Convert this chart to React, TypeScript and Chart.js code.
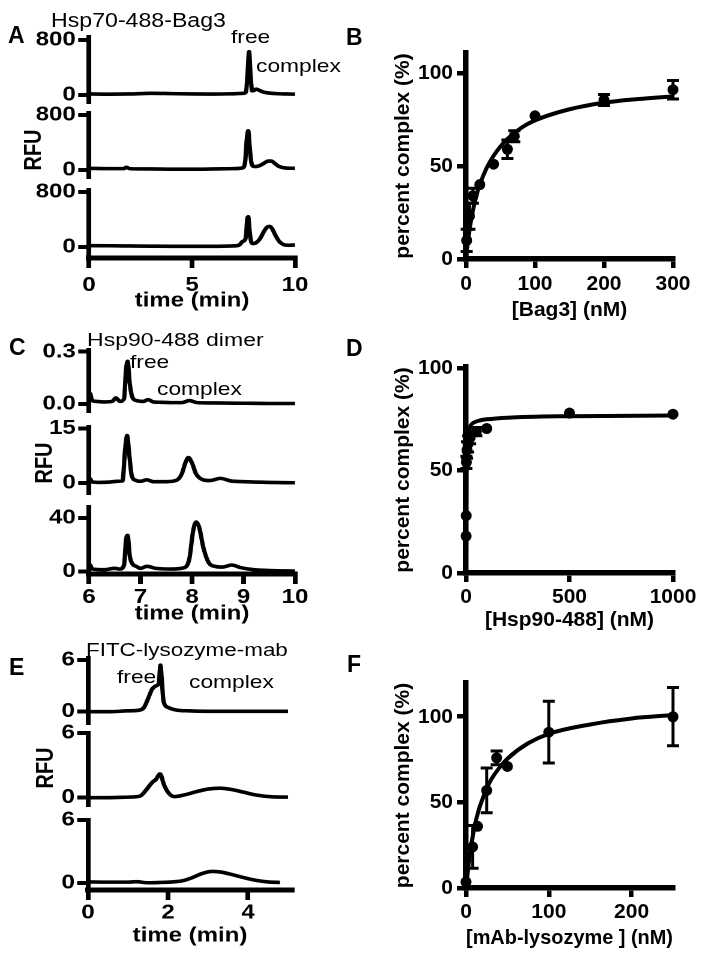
import React, { useEffect, useRef } from 'react';
import { Chart, registerables } from 'chart.js';

Chart.register(...registerables);

const FONT = '"Liberation Sans", Arial, Helvetica, sans-serif';
const STRETCH = 1.2;

// ---------- Panel A: Hsp70-488-Bag3 traces
const aTime1 = [0, 1, 2, 3, 4, 5, 6, 7, 7.5, 7.62, 7.7, 7.77, 7.84, 7.92, 8.0, 8.12, 8.25, 8.45, 8.7, 9.1, 9.6, 10];
const aRfu1 = [15, 12, 15, 25, 20, 15, 14, 18, 25, 45, 330, 630, 300, 60, 65, 85, 70, 45, 30, 20, 15, 12];
const aTime2 = [0, 1, 1.7, 1.8, 2, 3, 4, 5, 6, 7, 7.45, 7.58, 7.66, 7.73, 7.8, 7.88, 7.97, 8.1, 8.3, 8.5, 8.7, 8.85, 9.0, 9.2, 9.5, 10];
const aRfu2 = [25, 20, 20, 40, 18, 15, 12, 12, 15, 20, 30, 120, 450, 570, 330, 110, 55, 50, 65, 100, 130, 130, 100, 55, 30, 25];
const aTime3 = [0, 1, 2, 3, 4, 5, 6, 7, 7.3, 7.45, 7.55, 7.62, 7.68, 7.73, 7.79, 7.86, 7.95, 8.1, 8.3, 8.5, 8.65, 8.78, 8.9, 9.05, 9.25, 9.45, 9.7, 10];
const aRfu3 = [20, 18, 15, 12, 10, 10, 10, 15, 30, 80, 95, 160, 400, 440, 250, 90, 50, 60, 120, 230, 290, 300, 260, 170, 75, 35, 25, 30];
const aTimeTicks = [0, 5, 10];
const aTimeLabels = ['0', '5', '10'];
const aRfuTicks = [0, 800];
const aRfuLabels = ['0', '800'];

// ---------- Panel C: Hsp90-488 dimer traces
const cTime1 = [6.0, 6.02, 6.06, 6.15, 6.3, 6.45, 6.52, 6.6, 6.68, 6.72, 6.75, 6.79, 6.84, 6.92, 7.05, 7.15, 7.25, 7.4, 7.6, 7.8, 7.95, 8.1, 8.4, 8.8, 9.2, 9.6, 10];
const cRfu1 = [0.01, 0.06, 0.02, 0.015, 0.012, 0.015, 0.035, 0.015, 0.03, 0.2, 0.245, 0.12, 0.04, 0.02, 0.015, 0.025, 0.012, 0.01, 0.008, 0.008, 0.02, 0.008, 0.006, 0.005, 0.004, 0.003, 0.003];
const cTime2 = [6.0, 6.02, 6.06, 6.2, 6.4, 6.55, 6.65, 6.7, 6.74, 6.78, 6.83, 6.9, 7.0, 7.12, 7.25, 7.5, 7.7, 7.8, 7.87, 7.93, 8.0, 8.08, 8.2, 8.35, 8.55, 8.75, 9.0, 9.5, 10];
const cRfu2 = [0.3, 1.2, 0.3, 0.2, 0.3, 0.5, 0.6, 9, 13, 8, 2, 0.8, 0.5, 0.9, 0.4, 0.4, 0.8, 2.5, 5.5, 7, 5.5, 2.5, 1, 0.7, 1.3, 0.6, 0.4, 0.2, 0.1];
const cTime3 = [6.0, 6.02, 6.06, 6.3, 6.5, 6.6, 6.68, 6.72, 6.75, 6.79, 6.84, 6.92, 7.0, 7.12, 7.3, 7.6, 7.85, 7.95, 8.02, 8.08, 8.14, 8.22, 8.32, 8.45, 8.6, 8.77, 8.95, 9.2, 9.6, 10];
const cRfu3 = [1, 5, 2, 1.5, 2.5, 2, 5, 24, 27, 12, 6, 4, 2.5, 4, 2.5, 2, 3, 10, 30, 37, 33, 18, 7, 4, 3.5, 5, 3, 1.5, 0.8, 0.5];
const cTimeTicks = [6, 7, 8, 9, 10];
const cTimeLabels = ['6', '7', '8', '9', '10'];
const cRfuTicks1 = [0, 0.3];
const cRfuLabels1 = ['0.0', '0.3'];
const cRfuTicks2 = [0, 15];
const cRfuLabels2 = ['0', '15'];
const cRfuTicks3 = [0, 40];
const cRfuLabels3 = ['0', '40'];

// ---------- Panel E: FITC-lysozyme-mab traces
const eTime1 = [0, 0.5, 1.0, 1.3, 1.4, 1.5, 1.6, 1.7, 1.77, 1.81, 1.84, 1.88, 1.92, 2.0, 2.2, 2.5, 3, 3.5, 4, 4.5, 5];
const eRfu1 = [0, 0, 0.1, 0.2, 0.5, 1.5, 2.6, 3.0, 3.3, 5.4, 4.0, 1.5, 0.8, 0.5, 0.2, 0.1, 0.05, 0.05, 0.05, 0.05, 0.05];
const eTime2 = [0, 0.5, 1.0, 1.3, 1.45, 1.6, 1.7, 1.8, 1.9, 2.0, 2.15, 2.4, 2.7, 3.0, 3.3, 3.6, 3.9, 4.2, 4.6, 5.0];
const eRfu2 = [0, 0, 0.05, 0.15, 0.7, 1.4, 1.7, 2.2, 1.2, 0.5, 0.1, 0.25, 0.55, 0.8, 0.88, 0.75, 0.5, 0.25, 0.08, 0.05];
const eTime3 = [0, 0.5, 1.0, 1.2, 1.5, 1.8, 2.1, 2.35, 2.6, 2.85, 3.1, 3.3, 3.55, 3.85, 4.2, 4.5, 4.8];
const eRfu3 = [0.1, 0.08, 0.08, 0.12, 0.02, 0.05, 0.1, 0.2, 0.5, 0.9, 1.1, 1.05, 0.85, 0.55, 0.25, 0.1, 0.05];
const eTimeTicks = [0, 2, 4];
const eTimeLabels = ['0', '2', '4'];
const eRfuTicks = [0, 6];
const eRfuLabels = ['0', '6'];

// ---------- Panel B: Bag3 binding
const bagConc = [1, 5, 10, 20, 40, 60, 70, 100, 200, 300];
const bagPct = [10, 23, 34, 40, 51, 59, 66, 77, 85.5, 91];
const bagErr = [6, 7, 4, 0, 0, 5, 3, 0, 3, 5];
const bagFitConc = [0, 2, 5, 10, 15, 20, 30, 40, 50, 60, 80, 100, 150, 200, 250, 300];
const bagFitPct = [0, 7, 15.5, 26, 34, 40, 49, 55.5, 60.5, 64.5, 70.5, 74.5, 80.5, 84, 86, 87.5];
const bTicksX = [0, 100, 200, 300];
const bTicksY = [0, 50, 100];

// ---------- Panel D: Hsp90-488 binding
const hspConc = [0.5, 1, 2, 5, 10, 20, 50, 100, 500, 1000];
const hspPct = [18, 28, 54, 60, 63, 66, 69, 70.5, 78, 77.5];
const hspErr = [0, 0, 3, 4, 4, 3, 2, 0, 0, 0];
const hspFitConc = [0, 0.5, 1, 2, 3, 5, 10, 20, 40, 70, 100, 200, 500, 1000];
const hspFitPct = [0, 20, 33, 48, 55, 62, 68, 71.5, 73.5, 74.5, 75, 75.8, 76.5, 76.8];
const dTicksX = [0, 500, 1000];
const dTicksY = [0, 50, 100];

// ---------- Panel F: mAb-lysozyme binding
const mabConc = [0, 8, 14, 25, 37, 50, 100, 250];
const mabPct = [3.5, 24, 36, 57, 76, 71, 91, 100];
const mabErr = [0, 12.5, 0, 13, 4, 0, 18, 17];
const mabFitConc = [0, 5, 10, 15, 20, 25, 30, 40, 50, 75, 100, 150, 200, 250];
const mabFitPct = [0, 21, 35, 45, 52, 58, 63, 70, 75.5, 84.5, 90, 95.5, 99, 101];
const fTicksX = [0, 100, 200];
const fTicksY = [0, 50, 100];

const pts = (xs: number[], ys: number[]) => xs.map((x, i) => ({ x, y: ys[i] }));
const str = (a: number[]) => a.map((v) => String(v));

type Area = { left: number; right: number; top: number; bottom: number };
type Box = { x: number; y: number; w: number; h: number };
type AxisSpec = {
  min: number; max: number; ticks: number[]; labels: string[]; pad: number; tickLen: number;
  border: number; title?: string; titleMid?: number; show?: boolean;
};
type Spec = {
  box: Box; area: Area; dpr: number; fontSize: number; tickWidth: number;
  x: AxisSpec; y: AxisSpec; datasets: any[];
  errors?: { xs: number[]; ys: number[]; es: number[]; cap: number; width: number };
};

function errorPlugin(err?: Spec['errors']) {
  return {
    id: 'errorBars',
    afterDatasetsDraw(chart: any) {
      if (!err) return;
      const { ctx } = chart;
      const xs = chart.scales.x;
      const ys = chart.scales.y;
      ctx.save();
      ctx.strokeStyle = '#000';
      ctx.lineWidth = err.width;
      err.xs.forEach((xv, i) => {
        const e = err.es[i];
        if (!e) return;
        const px = xs.getPixelForValue(xv);
        const t = ys.getPixelForValue(err.ys[i] + e);
        const b = ys.getPixelForValue(err.ys[i] - e);
        ctx.beginPath();
        ctx.moveTo(px, t); ctx.lineTo(px, b);
        ctx.moveTo(px - err.cap, t); ctx.lineTo(px + err.cap, t);
        ctx.moveTo(px - err.cap, b); ctx.lineTo(px + err.cap, b);
        ctx.stroke();
      });
      ctx.restore();
    },
  };
}

function buildConfig(s: Spec): any {
  const lh = s.fontSize * 1.2;
  const font = { family: FONT, size: s.fontSize, weight: 'bold' as const };
  const { box, area } = s;
  const padLeft = s.y.title ? (s.y.titleMid as number) - box.x - lh / 2 : 0;
  const yWidth = area.left - box.x - padLeft;
  const showX = !!s.x.show;
  const xHeight = showX ? (s.x.titleMid as number) + lh / 2 - area.bottom : 0;
  const padTop = area.top - box.y;
  const padRight = box.x + box.w - area.right;
  const padBottom = box.y + box.h - area.bottom - xHeight;
  const axis = (a: AxisSpec, isX: boolean) => ({
    type: 'linear',
    position: isX ? 'bottom' : 'left',
    display: isX ? showX : true,
    min: a.min,
    max: a.max,
    afterBuildTicks: (sc: any) => {
      sc.ticks = a.ticks.map((v) => ({ value: v }));
    },
    afterFit: (sc: any) => {
      if (isX) sc.height = xHeight;
      else sc.width = yWidth;
    },
    ticks: {
      autoSkip: false,
      maxRotation: 0,
      minRotation: 0,
      padding: a.pad,
      color: '#000',
      font,
      callback: (_v: any, i: number) => a.labels[i],
    },
    grid: {
      drawOnChartArea: false,
      drawTicks: true,
      tickLength: a.tickLen,
      tickWidth: s.tickWidth,
      tickColor: '#000',
      color: '#000',
      lineWidth: s.tickWidth,
    },
    border: { display: true, width: a.border, color: '#000' },
    title: {
      display: !!a.title,
      text: a.title || '',
      color: '#000',
      font,
      padding: 0,
    },
  });
  return {
    type: 'scatter',
    data: { datasets: s.datasets },
    options: {
      animation: false,
      responsive: false,
      devicePixelRatio: s.dpr,
      events: [],
      layout: { padding: { left: padLeft, top: padTop, right: padRight, bottom: padBottom } },
      plugins: { legend: { display: false }, tooltip: { enabled: false } },
      scales: { x: axis(s.x, true), y: axis(s.y, false) },
    },
    plugins: [errorPlugin(s.errors)],
  };
}

function ChartCanvas({ spec }: { spec: Spec }) {
  const ref = useRef<HTMLCanvasElement>(null);
  useEffect(() => {
    const chart = new Chart(ref.current as HTMLCanvasElement, buildConfig(spec));
    return () => chart.destroy();
  }, []);
  const b = spec.box;
  return (
    <canvas
      ref={ref}
      width={b.w}
      height={b.h}
      style={{ position: 'absolute', left: b.x, top: b.y, width: b.w, height: b.h }}
    />
  );
}

const traceSet = (xs: number[], ys: number[]) => [
  {
    data: pts(xs, ys),
    showLine: true,
    borderColor: '#000',
    borderWidth: 3.6,
    pointRadius: 0,
    cubicInterpolationMode: 'monotone',
    clip: false,
  },
];

function leftSpec(
  area: Area,
  yMin: number, yMax: number, yTicks: number[], yLabels: string[],
  xs: number[], ys: number[],
  xMin: number, xMax: number,
  xAxis?: { ticks: number[]; labels: string[]; pad: number; titleMid: number }
): Spec {
  const la: Area = { left: area.left / STRETCH, right: area.right / STRETCH, top: area.top, bottom: area.bottom };
  const by = area.top - 18;
  const bh = xAxis ? Math.ceil(xAxis.titleMid + 18 - by) : area.bottom + 18 - by;
  return {
    box: { x: 0, y: by, w: 265, h: bh },
    area: la,
    dpr: 2,
    fontSize: 20,
    tickWidth: 4,
    x: {
      min: xMin, max: xMax,
      ticks: xAxis ? xAxis.ticks : [], labels: xAxis ? xAxis.labels : [],
      pad: xAxis ? xAxis.pad : 0, tickLen: 10, border: 5,
      title: xAxis ? 'time (min)' : undefined, titleMid: xAxis ? xAxis.titleMid : 0, show: !!xAxis,
    },
    y: { min: yMin, max: yMax, ticks: yTicks, labels: yLabels, pad: 2, tickLen: 9, border: 4 },
    datasets: traceSet(xs, ys),
  };
}

const leftSpecs: Spec[] = [
  leftSpec({ left: 89, right: 295, top: 37, bottom: 102 }, -101.8, 843.6, aRfuTicks, aRfuLabels, aTime1, aRfu1, 0, 10),
  leftSpec({ left: 89, right: 295, top: 113, bottom: 177 }, -101.8, 829, aRfuTicks, aRfuLabels, aTime2, aRfu2, 0, 10),
  leftSpec({ left: 89, right: 295, top: 190, bottom: 258 }, -160, 829, aRfuTicks, aRfuLabels, aTime3, aRfu3, 0, 10,
    { ticks: aTimeTicks, labels: aTimeLabels, pad: 5.6, titleMid: 301 }),
  leftSpec({ left: 89, right: 295, top: 350, bottom: 411 }, -0.04, 0.31, cRfuTicks1, cRfuLabels1, cTime1, cRfu1, 6, 10),
  leftSpec({ left: 89, right: 295, top: 427, bottom: 493 }, -2.7, 15.35, cRfuTicks2, cRfuLabels2, cTime2, cRfu2, 6, 10),
  leftSpec({ left: 89, right: 295, top: 507, bottom: 574 }, -1.7, 48.2, cRfuTicks3, cRfuLabels3, cTime3, cRfu3, 6, 10,
    { ticks: cTimeTicks, labels: cTimeLabels, pad: 1.4, titleMid: 614 }),
  leftSpec({ left: 88, right: 292, top: 658, bottom: 723 }, -1.31, 6.23, eRfuTicks, eRfuLabels, eTime1, eRfu1, 0, 5.1),
  leftSpec({ left: 88, right: 292, top: 733, bottom: 805 }, -0.68, 6, eRfuTicks, eRfuLabels, eTime2, eRfu2, 0, 5.1),
  leftSpec({ left: 88, right: 292, top: 820, bottom: 890 }, -0.67, 6, eRfuTicks, eRfuLabels, eTime3, eRfu3, 0, 5.1,
    { ticks: eTimeTicks, labels: eTimeLabels, pad: 1, titleMid: 936 }),
];

function rightSpec(
  box: Box, area: Area,
  x: { max: number; ticks: number[]; title: string; titleMid: number; pad: number },
  yMax: number, yTicks: number[],
  conc: number[], pct: number[], err: number[], fitX: number[], fitY: number[]
): Spec {
  return {
    box, area, dpr: 1, fontSize: 21, tickWidth: 4.5,
    x: { min: 0, max: x.max, ticks: x.ticks, labels: str(x.ticks), pad: x.pad, tickLen: 9, border: 5.5, title: x.title, titleMid: x.titleMid, show: true },
    y: { min: 0, max: yMax, ticks: yTicks, labels: str(yTicks), pad: 4, tickLen: 9, border: 5.5, title: 'percent complex (%)', titleMid: 403.3 },
    datasets: [
      { data: pts(fitX, fitY), showLine: true, borderColor: '#000', borderWidth: 4, pointRadius: 0, cubicInterpolationMode: 'monotone', clip: false },
      { data: pts(conc, pct), showLine: false, pointRadius: 5.5, pointBackgroundColor: '#000', pointBorderColor: '#000', pointBorderWidth: 0, clip: false },
    ],
    errors: { xs: conc, ys: pct, es: err, cap: 6, width: 3 },
  };
}

const rightSpecs: Spec[] = [
  rightSpec({ x: 340, y: 30, w: 364, h: 320 }, { left: 466, right: 673, top: 53, bottom: 259 },
    { max: 300, ticks: bTicksX, title: '[Bag3] (nM)', titleMid: 310.3, pad: 3.8 }, 110.75, bTicksY,
    bagConc, bagPct, bagErr, bagFitConc, bagFitPct),
  rightSpec({ x: 340, y: 340, w: 364, h: 300 }, { left: 466, right: 673, top: 367, bottom: 573 },
    { max: 1000, ticks: dTicksX, title: '[Hsp90-488] (nM)', titleMid: 620, pad: 3.1 }, 100.5, dTicksY,
    hspConc, hspPct, hspErr, hspFitConc, hspFitPct),
  rightSpec({ x: 340, y: 650, w: 364, h: 309 }, { left: 466, right: 673, top: 683, bottom: 888 },
    { max: 250, ticks: fTicksX, title: '[mAb-lysozyme ] (nM)', titleMid: 938.3, pad: 3.1 }, 119.7, fTicksY,
    mabConc, mabPct, mabErr, mabFitConc, mabFitPct),
];

function Txt({ x, base, size, bold, children }: { x: number; base: number; size: number; bold?: boolean; children: React.ReactNode }) {
  return (
    <div
      style={{
        position: 'absolute', left: x, top: base - 0.8465 * size, fontSize: size,
        lineHeight: `${size}px`, fontWeight: bold ? 700 : 400, whiteSpace: 'nowrap',
      }}
    >
      {children}
    </div>
  );
}

function VTxt({ cx, cy, size, children }: { cx: number; cy: number; size: number; children: React.ReactNode }) {
  return (
    <div
      style={{
        position: 'absolute', left: cx, top: cy, fontSize: size, lineHeight: `${size}px`,
        fontWeight: 700, whiteSpace: 'nowrap', transform: 'translate(-50%, -50%) rotate(-90deg)',
      }}
    >
      {children}
    </div>
  );
}

const L = (px: number) => px / STRETCH;

export default function App() {
  return (
    <div
      style={{
        position: 'absolute', left: 0, top: 0, width: 704, height: 959, background: '#fff',
        overflow: 'hidden', fontFamily: FONT, color: '#000',
      }}
    >
      <div
        style={{
          position: 'absolute', left: 0, top: 0, width: 300, height: 959,
          transform: `scaleX(${STRETCH})`, transformOrigin: '0 0',
        }}
      >
        {leftSpecs.map((s, i) => (
          <ChartCanvas key={i} spec={s} />
        ))}
        <Txt x={L(51)} base={27} size={19.3}>Hsp70-488-Bag3</Txt>
        <Txt x={L(231)} base={43} size={19}>free</Txt>
        <Txt x={L(256)} base={72} size={19}>complex</Txt>
        <Txt x={L(87)} base={346} size={19.2}>Hsp90-488 dimer</Txt>
        <Txt x={L(130)} base={368} size={19}>free</Txt>
        <Txt x={L(157)} base={395} size={19}>complex</Txt>
        <Txt x={L(86)} base={657} size={18.7}>FITC-lysozyme-mab</Txt>
        <Txt x={L(117)} base={683} size={19}>free</Txt>
        <Txt x={L(189)} base={688} size={19}>complex</Txt>
        <VTxt cx={L(32)} cy={150} size={20}>RFU</VTxt>
        <VTxt cx={L(43)} cy={463} size={20}>RFU</VTxt>
        <VTxt cx={L(44)} cy={768} size={20}>RFU</VTxt>
      </div>
      {rightSpecs.map((s, i) => (
        <ChartCanvas key={'r' + i} spec={s} />
      ))}
      <Txt x={8} base={43.3} size={23} bold>A</Txt>
      <Txt x={346} base={45} size={23} bold>B</Txt>
      <Txt x={9} base={355} size={23} bold>C</Txt>
      <Txt x={346} base={356} size={23} bold>D</Txt>
      <Txt x={9} base={675} size={23} bold>E</Txt>
      <Txt x={347} base={672.7} size={23} bold>F</Txt>
    </div>
  );
}
